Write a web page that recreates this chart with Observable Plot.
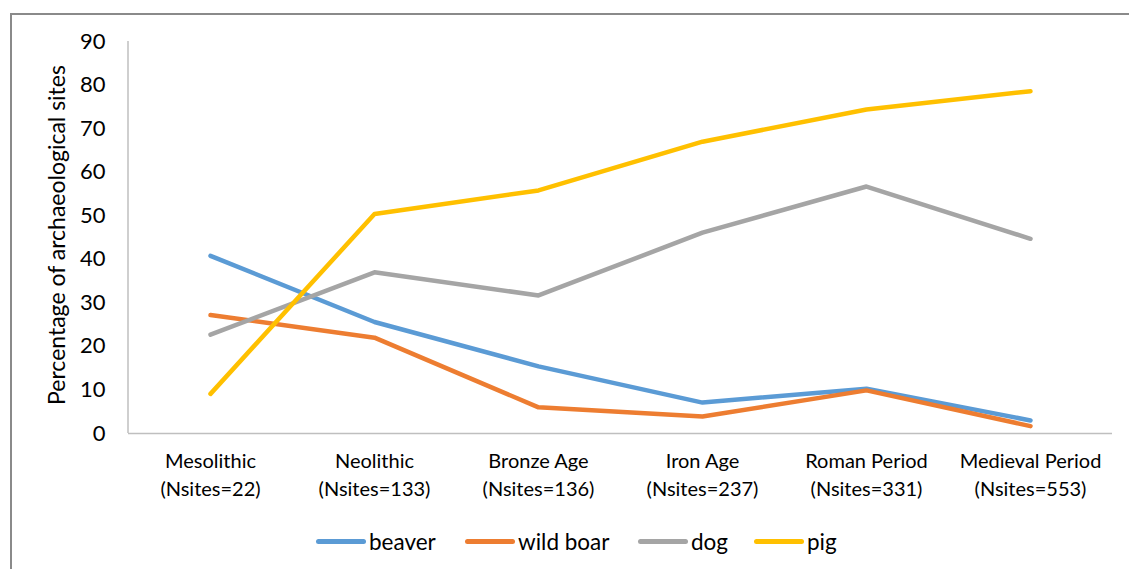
<!DOCTYPE html>
<html>
<head>
<meta charset="utf-8">
<script src="https://cdn.jsdelivr.net/npm/d3@7"></script>
<script src="https://cdn.jsdelivr.net/npm/@observablehq/plot@0.6"></script>
<style>
  html, body { margin: 0; padding: 0; background: #fff; overflow: hidden; }
  #wrap { position: relative; width: 1129px; height: 569px; overflow: hidden; font-family: Lato, "Open Sans", sans-serif; }
  #frame { position: absolute; left: 10px; top: 13px; width: 1200px; height: 700px; border: 2px solid #8a8a8a; box-sizing: border-box; }
  #chart { position: absolute; left: 0; top: 0; }
  #legend { position: absolute; top: 526px; left: 0; width: 1129px; height: 30px; }
  .item { position: absolute; top: 0; display: flex; align-items: center; font-size: 22.5px; color: #000; height: 30px; white-space: nowrap; }
  .sw { width: 50px; height: 5px; border-radius: 3px; margin-right: 3px; }
</style>
</head>
<body>
<div id="wrap">
  <div id="frame"></div>
  <div id="chart"></div>
  <div id="legend"></div>
</div>
<script>
const periods = ["Mesolithic", "Neolithic", "Bronze Age", "Iron Age", "Roman Period", "Medieval Period"];
const nsites = [22, 133, 136, 237, 331, 553];
const beaver = [40.8, 25.6, 15.4, 7.1, 10.3, 3.0];
const wildBoar = [27.2, 22.0, 6.0, 3.9, 9.9, 1.7];
const dog = [22.7, 37.0, 31.7, 46.1, 56.7, 44.7];
const pig = [9.1, 50.4, 55.8, 67.0, 74.4, 78.6];
const seriesNames = ["beaver", "wild boar", "dog", "pig"];
const seriesColors = ["#5B9BD5", "#ED7D31", "#A5A5A5", "#FFC000"];
const yTicks = [0, 10, 20, 30, 40, 50, 60, 70, 80, 90];
const yTitle = "Percentage of archaeological sites";

const seriesValues = [beaver, wildBoar, dog, pig];
const rows = [];
seriesNames.forEach((s, i) => {
  periods.forEach((p, j) => rows.push({series: s, period: p, value: seriesValues[i][j]}));
});
const labelOf = new Map(periods.map((p, j) => [p, `${p}\n(Nsites=${nsites[j]})`]));

const chart = Plot.plot({
  width: 1129,
  height: 505,
  marginLeft: 128,
  marginRight: 17,
  marginTop: 41,
  marginBottom: 72,
  style: {fontFamily: "Lato, 'Open Sans', sans-serif", background: "transparent"},
  x: {type: "point", domain: periods, padding: 0.5, label: null},
  y: {domain: [0, 90], label: null},
  color: {domain: seriesNames, range: seriesColors},
  marks: [
    Plot.ruleY([0], {stroke: "#bfbfbf", strokeWidth: 1.5}),
    Plot.axisY({ticks: yTicks, tickSize: 0, tickPadding: 23, fontSize: 22, fill: "#000", label: null}),
    Plot.axisX({tickSize: 0, tickPadding: 15, fontSize: 20, fill: "#000", lineHeight: 1.4, tickFormat: d => labelOf.get(d), label: null}),
    Plot.line(rows, {x: "period", y: "value", z: "series", stroke: "series", strokeWidth: 4.5, strokeLinecap: "round", strokeLinejoin: "round"})
  ]
});
document.getElementById("chart").appendChild(chart);

const svg = d3.select(chart);
svg.insert("line", ":first-child")
  .attr("x1", 128).attr("x2", 128)
  .attr("y1", 41).attr("y2", 433)
  .attr("stroke", "#bfbfbf").attr("stroke-width", 1.5);
svg.append("text")
  .attr("transform", "translate(59,235) rotate(-90)")
  .attr("text-anchor", "middle")
  .attr("dominant-baseline", "middle")
  .attr("font-size", 23)
  .attr("fill", "#000")
  .text(yTitle);

const legendPos = [316, 465, 638, 754];
const legend = document.getElementById("legend");
seriesNames.forEach((s, i) => {
  const it = document.createElement("div");
  it.className = "item";
  it.style.left = legendPos[i] + "px";
  const sw = document.createElement("div");
  sw.className = "sw";
  sw.style.background = seriesColors[i];
  it.appendChild(sw);
  const t = document.createElement("span");
  t.textContent = s;
  it.appendChild(t);
  legend.appendChild(it);
});
</script>
</body>
</html>
